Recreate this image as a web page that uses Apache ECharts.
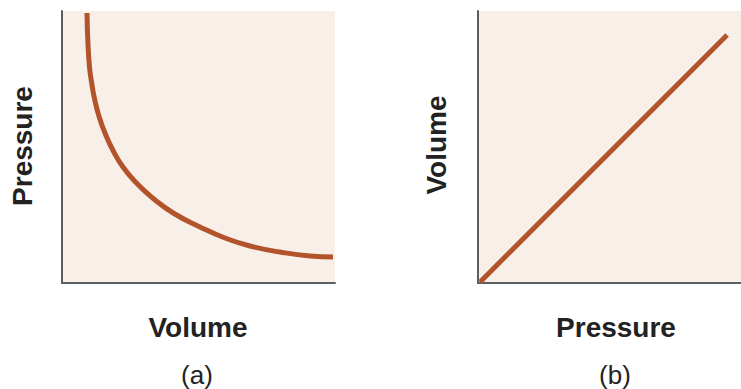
<!DOCTYPE html>
<html>
<head>
<meta charset="utf-8">
<script src="https://cdn.jsdelivr.net/npm/echarts@6/dist/echarts.min.js"></script>
<style>html,body{margin:0;padding:0;background:#fff;}#c{width:741px;height:389px;}</style>
</head>
<body>
<div id="c"></div>
<script>
// Panel (a): pressure vs volume (inverse relationship)
const volumeA = [9.16, 9.45, 10.07, 10.88, 12.01, 13.63, 15.75, 18.61, 22.34, 27.29, 33.19, 41.03, 50.55, 59.71, 68.86, 79.85, 90.84, 99.27];
const pressureA = [99.26, 89.34, 79.41, 73.53, 67.28, 61.03, 55.15, 48.90, 42.65, 36.76, 31.25, 25.55, 20.59, 16.54, 13.60, 11.40, 9.93, 9.56];
// Panel (b): volume vs pressure (linear)
const pressureB = [0.8, 94.7];
const volumeB = [0.4, 91.2];
const axisTitles = { aX: 'Volume', aY: 'Pressure', bX: 'Pressure', bY: 'Volume' };
const panelLabels = ['(a)', '(b)'];

const BG = '#f7efe8', LINE = '#b3532b', AX = '#5b5e62', TXT = '#222222';
const FONT = '"Liberation Sans", Arial, sans-serif';

function pairs(xs, ys) { return xs.map((x, i) => [x, ys[i]]); }
function axis(gi) {
  return {
    type: 'value', gridIndex: gi, min: 0, max: 100,
    axisLine: { show: true, onZero: false, lineStyle: { color: AX, width: 2 } },
    axisTick: { show: false }, axisLabel: { show: false }, splitLine: { show: false }
  };
}
function txt(x, y, text, bold, rot) {
  return {
    type: 'text', x: x, y: y, rotation: rot || 0,
    style: {
      text: text, fill: TXT, font: (bold ? 'bold ' : '') + (bold ? '28px ' : '26px ') + FONT,
      textAlign: 'center', textVerticalAlign: 'middle'
    }
  };
}

const chart = echarts.init(document.getElementById('c'), null, { renderer: 'svg' });
chart.setOption({
  animation: false,
  backgroundColor: '#ffffff',
  grid: [
    { left: 62, top: 11, width: 273, height: 272, show: true, backgroundColor: BG, borderWidth: 0 },
    { left: 478, top: 11, right: 0, height: 272, show: true, backgroundColor: BG, borderWidth: 0 }
  ],
  xAxis: [axis(0), axis(1)],
  yAxis: [axis(0), axis(1)],
  series: [
    { type: 'line', xAxisIndex: 0, yAxisIndex: 0, data: pairs(volumeA, pressureA), smooth: 0.5,
      showSymbol: false, lineStyle: { color: LINE, width: 5 } },
    { type: 'line', xAxisIndex: 1, yAxisIndex: 1, data: pairs(pressureB, volumeB),
      showSymbol: false, lineStyle: { color: LINE, width: 5 } }
  ],
  graphic: [
    txt(22, 146, axisTitles.aY, true, Math.PI / 2),
    txt(198, 327, axisTitles.aX, true),
    txt(197, 375, panelLabels[0], false),
    txt(436, 145, axisTitles.bY, true, Math.PI / 2),
    txt(616, 327, axisTitles.bX, true),
    txt(615, 375, panelLabels[1], false)
  ]
});
</script>
</body>
</html>
